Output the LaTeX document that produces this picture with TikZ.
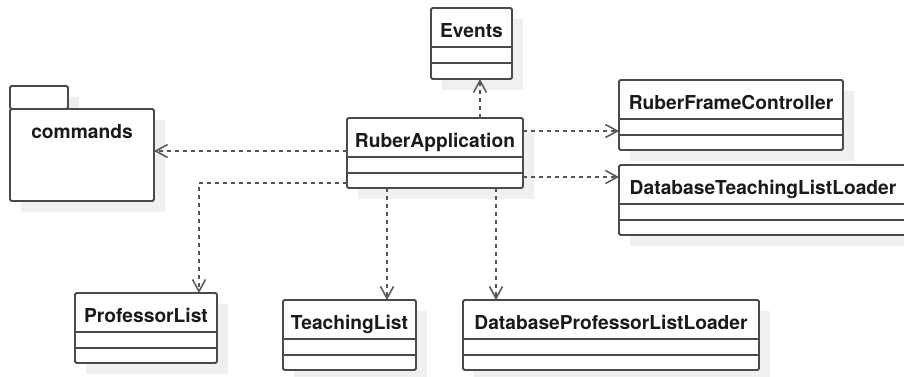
\documentclass[tikz,border=0pt]{standalone}
\usepackage{fontspec}
\setmainfont{TeX Gyre Heros}
\usetikzlibrary{arrows.meta,calc}

\definecolor{boxline}{HTML}{4A4A4A}
\definecolor{dep}{HTML}{555555}
\definecolor{shade}{HTML}{F0F0F0}
\definecolor{ink}{HTML}{1A1A1A}

\tikzset{
  classbox/.style={draw=boxline, line width=1.8pt, fill=white, rounded corners=1.5pt,
                   inner sep=0pt, outer sep=0pt, anchor=north west},
  sepline/.style={draw=boxline, line width=1.8pt},
  classtext/.style={font=\fontsize{19.2}{21}\selectfont\bfseries, text=ink, inner sep=0pt, anchor=base},
  shadowbox/.style={fill=shade},
  depend/.style={draw=dep, line width=1.5pt, dash pattern=on 4pt off 4pt,
                 -{Straight Barb[length=12pt,width=13pt,line width=1.5pt]}},
}

% class box: name, left, top, right, bottom, label
\newcommand{\umlclass}[6]{%
  \pgfmathsetmacro{\bw}{#4-#2}%
  \pgfmathsetmacro{\bh}{#5-#3}%
  \fill[shadowbox] (#2+11,#3+11) rectangle (#4+11,#5+11);
  \node[classbox, minimum width=\bw pt, minimum height=\bh pt] (#1) at (#2,#3) {};
  \draw[sepline] ([yshift=-39pt]#1.north west) -- ([yshift=-39pt]#1.north east);
  \draw[sepline] ([yshift=-55pt]#1.north west) -- ([yshift=-55pt]#1.north east);
  \node[classtext] (#1-label) at ([yshift=-29pt]#1.north) {#6};
}

\begin{document}
\begin{tikzpicture}[x=1pt,y=-1pt]
  \fill[white] (0,0) rectangle (904,376);
  \clip (0,0) rectangle (904,376);

  % package "commands"
  \fill[shadowbox] (21,97) rectangle (79,120);
  \fill[shadowbox] (21,120) rectangle (165,212);
  \node[classbox, minimum width=58pt, minimum height=23pt] (cmdtab) at (10,86) {};
  \node[classbox, minimum width=144pt, minimum height=92pt] (cmd) at (10,109) {};
  \node[classtext] (cmd-label) at ([yshift=-29pt]cmd.north) {commands};

  % classes
  \umlclass{ev}{431}{8}{512}{79}{Events}
  \umlclass{ra}{347}{118}{523}{188}{RuberApplication}
  \umlclass{rfc}{619}{80}{843}{150}{RuberFrameController}
  \umlclass{dtll}{619}{165}{907}{235}{DatabaseTeachingListLoader}
  \umlclass{pl}{75}{293}{217}{363}{ProfessorList}
  \umlclass{tl}{283}{300}{416}{370}{TeachingList}
  \umlclass{dpll}{463}{300}{759}{370}{DatabaseProfessorListLoader}

  % dependency start points on RuberApplication
  \coordinate (toEv)   at ($(ra.north west)+(133,0)$);
  \coordinate (toRfc)  at ($(ra.north east)+(0,13)$);
  \coordinate (toDtll) at ($(ra.north east)+(0,59)$);
  \coordinate (toCmd)  at ($(ra.north west)+(0,33)$);
  \coordinate (toPl)   at ($(ra.north west)+(0,65)$);
  \coordinate (toTl)   at ($(ra.south west)+(40,0)$);
  \coordinate (toDpll) at ($(ra.south west)+(149,0)$);
  \coordinate (plIn)   at ($(pl.north east)+(-18,0)$);

  % dependencies
  \draw[depend] (toEv) -- (toEv |- ev.south);
  \draw[depend] (toRfc) -- (toRfc -| rfc.west);
  \draw[depend] (toDtll) -- (toDtll -| dtll.west);
  \draw[depend] (toCmd) -- (toCmd -| cmd.east);
  \draw[depend] (toPl) -| (plIn);
  \draw[depend] (toTl) -- (toTl |- tl.north);
  \draw[depend] (toDpll) -- (toDpll |- dpll.north);
\end{tikzpicture}
\end{document}
